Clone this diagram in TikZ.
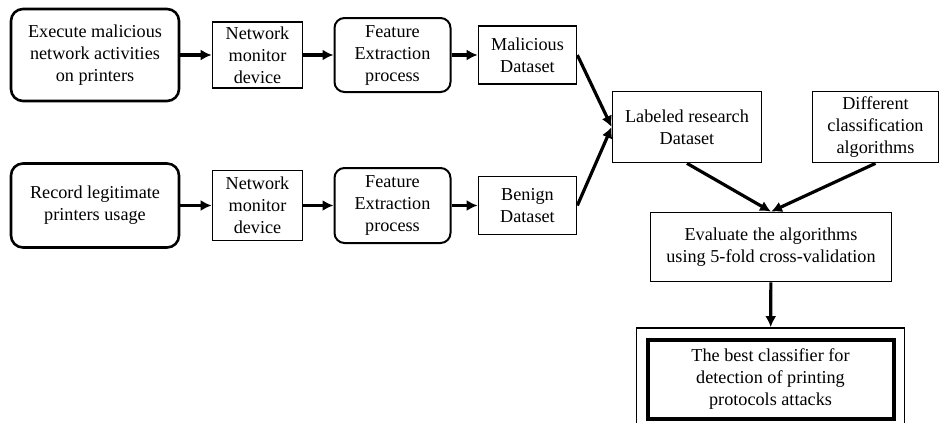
\documentclass[tikz,border=0pt]{standalone}
\usepackage{fontspec}
\setmainfont{Liberation Serif}
\usetikzlibrary{arrows.meta}

\begin{document}
\begin{tikzpicture}[x=1pt, y=-1pt,
  font=\fontsize{18.2}{22}\selectfont,
  rbox/.style={draw, rounded corners=12pt, line width=2.6pt, align=center, inner sep=0pt},
  sbox/.style={draw, line width=1.7pt, align=center, inner sep=0pt},
  flow/.style={-{Latex[length=11pt,width=11pt]}, line width=3.2pt}]
\useasboundingbox (0,0) rectangle (940,423);
% malicious branch
\node[rbox, minimum width=168pt, minimum height=92pt] (exec) at (95,55) {Execute malicious\\network activities\\on printers};
\node[sbox, minimum width=90pt, minimum height=66pt] (nmd1) at (257.5,55) {Network\\monitor\\device};
\node[rbox, rounded corners=10pt, line width=2pt, minimum width=116pt, minimum height=74pt] (fe1) at (392.5,55) {Feature\\Extraction\\process};
\node[sbox, minimum width=98pt, minimum height=58pt] (mal) at (527.5,55) {Malicious\\Dataset};
% benign branch
\node[rbox, minimum width=168pt, minimum height=84pt] (rec) at (95,205.5) {Record legitimate\\printers usage};
\node[sbox, minimum width=90pt, minimum height=70pt] (nmd2) at (257.5,205.5) {Network\\monitor\\device};
\node[rbox, rounded corners=10pt, line width=2pt, minimum width=116pt, minimum height=75pt] (fe2) at (392.5,205.5) {Feature\\Extraction\\process};
\node[sbox, minimum width=98pt, minimum height=58pt] (ben) at (527.5,205.5) {Benign\\Dataset};
% evaluation
\node[sbox, minimum width=149pt, minimum height=71pt] (lab) at (687,127) {Labeled research\\Dataset};
\node[sbox, minimum width=126pt, minimum height=71pt] (diff) at (875.5,127) {Different\\classification\\algorithms};
\node[sbox, minimum width=241pt, minimum height=69pt] (eval) at (771,247) {Evaluate the algorithms\\using 5-fold cross-validation};
\node[sbox, minimum width=268pt, minimum height=110pt] (bestframe) at (770.5,383) {};
\node[draw, line width=4pt, minimum width=246pt, minimum height=79pt, align=center, inner sep=0pt] (best) at (770.5,379) {The best classifier for\\detection of printing\\protocols attacks};

\draw[flow] (exec) -- (nmd1);
\draw[flow] (nmd1) -- (fe1);
\draw[flow] (fe1) -- (mal);
\draw[flow] (rec) -- (nmd2);
\draw[flow] (nmd2) -- (fe2);
\draw[flow] (fe2) -- (ben);
\draw[flow] (mal.east) -- (lab.west);
\draw[flow] (ben.east) -- (lab.west);
\draw[flow] (lab.south) -- (eval.north);
\draw[flow] (diff.south) -- (eval.north);
\draw[flow] (eval) -- (bestframe);
\end{tikzpicture}
\end{document}
